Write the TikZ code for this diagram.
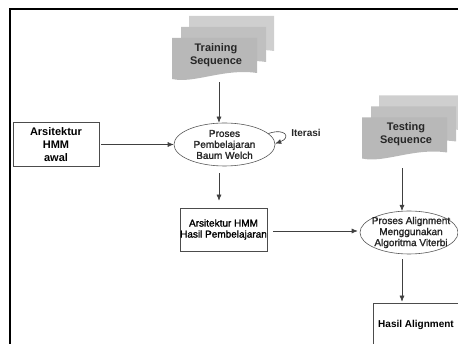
\documentclass[tikz,border=0pt]{standalone}
\usepackage{fontspec}
\setmainfont{Liberation Sans}
\newfontfamily\midfont{Liberation Sans}[FakeBold=1.5]
\usepackage{xcolor}
\usepackage{tikz}
\usetikzlibrary{calc, positioning, arrows.meta, shapes.geometric}
\pgfdeclarelayer{bg}
\pgfsetlayers{bg,main}

\definecolor{docfront}{HTML}{B8B8B8}
\definecolor{docmid}{HTML}{C0C0C0}
\definecolor{docback}{HTML}{CFCFCF}
\newcommand{\bigtxt}{\fontsize{11}{13}\selectfont\bfseries}
\newcommand{\smalltxt}{\fontsize{10}{11}\selectfont\midfont}
\newcommand{\smallbf}{\fontsize{10}{11}\selectfont\bfseries}
% stacked document pages behind a text node
\newcommand{\docstack}[1]{%
  \begin{pgfonlayer}{bg}
    \foreach \dx/\dy/\col in {17/-22/docback, 9/-11/docmid, 0/0/docfront}
      \fill[\col, shift={($(#1.center)+(\dx-44,\dy-17)$)}]
        (0,0) -- (85,0) -- (85,35) .. controls (52,30) and (22,46) .. (0,41) -- cycle;
  \end{pgfonlayer}}

\begin{document}
\begin{tikzpicture}[x=1pt, y=-1pt,
  box/.style={draw=black!70, line width=0.6pt, minimum width=86pt, minimum height=44pt, inner sep=0pt, align=center},
  proc/.style={ellipse, draw=black!65, line width=0.6pt, minimum width=101pt, minimum height=43pt, inner sep=0pt},
  doc/.style={align=center, font=\bigtxt, text=black!85, minimum width=80pt, minimum height=52pt, inner sep=0pt},
  txt/.style={align=center, font=\smalltxt, text=black!85},
  arr/.style={-{Latex[length=6pt,width=5pt]}, line width=0.6pt, draw=black!75}]
\useasboundingbox (0,0) rectangle (458,344);
\clip (0,0) rectangle (458,344);
% frame %
\draw[line width=2pt] (10,360) -- (10,9) -- (470,9);
% nodes %
\node[doc] (train) at (216,55) {Training\\Sequence};
\node[doc] (test) at (406,134.5) {Testing\\Sequence};
\docstack{train}
\docstack{test}
\node[box, font=\bigtxt] (hmm) at (56,144.5) {Arsitektur\\HMM\\awal};
\node[proc, label={[txt]center:Proses\\Pembelajaran\\Baum Welch}] (bw) at (224.5,144.5) {};
\node[txt, font=\smallbf] (iter) at (306,133) {Iterasi};
\node[box, font=\smalltxt, minimum width=87pt, minimum height=43pt] (hasil) at (223.5,229.5) {Arsitektur HMM\\Hasil Pembelajaran};
\node[proc, minimum width=98pt, label={[txt, xshift=2pt]center:Proses Alignment\\Menggunakan\\Algoritma Viterbi}] (vit) at (409,232.5) {};
\node[box, font=\smallbf, minimum height=43pt] (res) at (416,324.5) {Hasil Alignment};
% edges %
\draw[arr] ($(train.south)+(3,1)$) -- ($(bw.north)+(-5.5,0)$);
\draw[arr, shorten <=2pt] (hmm.east) -- (bw.west);
\draw[arr] (bw.14) .. controls +(17,-6) and +(16,-6) .. (bw.1);
\draw[arr] ($(bw.south)+(-5.5,7)$) -- ($(hasil.north)+(-4.5,-7)$);
\draw[arr] ($(hasil.east)+(6,1.5)$) -- ($(vit.west)+(-2,-1.5)$);
\draw[arr] ($(test.south)+(-4,7.5)$) -- ($(vit.north)+(-7,0.2)$);
\draw[arr] ($(vit.south)+(-7,5)$) -- ($(res.north)+(-14,-1)$);
\end{tikzpicture}
\end{document}
